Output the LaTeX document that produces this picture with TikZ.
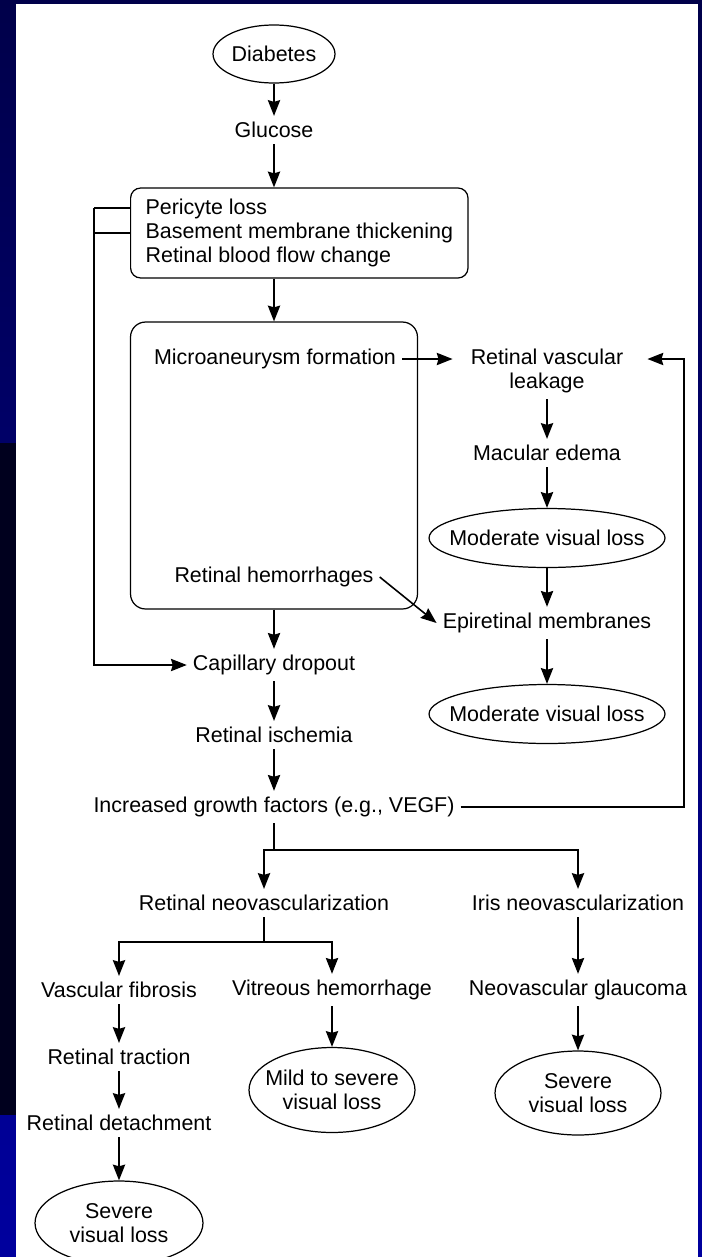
\documentclass[tikz,border=0pt]{standalone}
\usepackage{fontspec}
\setmainfont{Liberation Sans}
\usetikzlibrary{arrows.meta,shapes.geometric}
\definecolor{slidetop}{HTML}{00004A}
\definecolor{slidebot}{HTML}{00009E}
\definecolor{slidedark}{HTML}{00001E}
\begin{document}
\begin{tikzpicture}[x=0.02cm, y=-0.02cm, font=\fontsize{12.2}{13.8}\selectfont,
    flow/.style={-{Stealth[length=9pt,width=7pt,inset=1pt]}, line width=0.9pt},
    link/.style={line width=0.9pt},
    oval/.style={draw, ellipse, line width=0.7pt, inner sep=0pt},
    panel/.style={draw, rectangle, line width=0.7pt}]
    \useasboundingbox (0,0) rectangle (702,1257);
    \shade[top color=slidetop, bottom color=slidebot] (0,0) rectangle (702,1257);
    \fill[slidedark] (0,443) rectangle (16,1115);
    \fill[white] (16,4) rectangle (698,1257);

    \node[oval, minimum width=2.44cm, minimum height=1.16cm] (diab) at (274,54) {Diabetes};
    \node (gluc) at (274,130) {Glucose};
    \node[panel, anchor=west, rounded corners=0.2cm, minimum height=1.8cm, inner xsep=0.3cm, align=left] (bm) at (130,233)
        {Pericyte loss\\Basement membrane thickening\\Retinal blood flow change};
    \node[panel, rounded corners=0.3cm, minimum width=5.74cm, minimum height=5.74cm] (lesion) at (274,465.5) {};
    \node (micro) at (275,359) {Microaneurysm formation};
    \node (hemo) at (274,577) {Retinal hemorrhages};
    \node[align=center] (leak) at (547,371) {Retinal vascular\\leakage};
    \node (edema) at (547,453) {Macular edema};
    \node[oval, minimum width=4.72cm, minimum height=1.18cm] (mvl1) at (547,538) {};
    \node (mvl1t) at (mvl1) {Moderate visual loss};
    \node (epi) at (547,623) {Epiretinal membranes};
    \node[oval, minimum width=4.72cm, minimum height=1.18cm] (mvl2) at (547,714) {};
    \node (mvl2t) at (mvl2) {Moderate visual loss};
    \node (drop) at (274,665) {Capillary dropout};
    \node (isch) at (274,735) {Retinal ischemia};
    \node (vegf) at (274,807) {Increased growth factors (e.g., VEGF)};
    \node (rneo) at (264,903) {Retinal neovascularization};
    \node (ineo) at (578,903) {Iris neovascularization};
    \node (fib) at (119,990) {Vascular fibrosis};
    \node (vhem) at (332,990) {Vitreous hemorrhage};
    \node (glau) at (578,990) {Neovascular glaucoma};
    \node (trac) at (119,1057) {Retinal traction};
    \node (detach) at (119,1123) {Retinal detachment};
    \node[oval, minimum width=3.36cm, minimum height=1.68cm] (svl1) at (119,1223) {};
    \node[align=center] (svl1t) at (svl1) {Severe\\visual loss};
    \node[oval, minimum width=3.32cm, minimum height=1.7cm] (mild) at (332,1090) {};
    \node[align=center] (mildt) at (mild) {Mild to severe\\visual loss};
    \node[oval, minimum width=3.32cm, minimum height=1.68cm] (svl2) at (578,1093) {};
    \node[align=center] (svl2t) at (svl2) {Severe\\visual loss};

    \coordinate (side) at (94,208);
    \coordinate (split) at (274,850);
    \coordinate (fork) at (264,942);

    \draw[flow] (diab) to (gluc);
    \draw[flow] (gluc) to (gluc |- bm.north);
    \draw[flow] (bm.south -| lesion.north) to (lesion);
    \draw[flow] (lesion) to (drop);
    \draw[flow] (drop) to (isch);
    \draw[flow] (isch) to (vegf);
    \draw[link] (side -| bm.west) to (side);
    \draw[link] (bm.west |- 0,233) to (94,233);
    \draw[flow] (side) |- (drop.west);
    \draw[flow, shorten >=0.24cm] (micro.east) to (micro.east -| leak.west);
    \draw[flow] (hemo.east) to (epi.west);
    \draw[flow] (leak) to (edema);
    \draw[flow] (edema) to (mvl1);
    \draw[flow] (mvl1) to (epi);
    \draw[flow] (epi) to (mvl2);
    \draw[flow, shorten >=0.36cm] (vegf.east) -| (684,359) to (leak.east |- micro.east);
    \draw[link] (vegf) to (split);
    \draw[flow] (split) -| (rneo);
    \draw[flow] (split) -| (ineo);
    \draw[link] (rneo) to (fork);
    \draw[flow] (fork) -| (fib);
    \draw[flow] (fork) -| (vhem);
    \draw[flow] (ineo) to (glau);
    \draw[flow] (fib) to (trac);
    \draw[flow] (trac) to (detach);
    \draw[flow] (detach) to (svl1);
    \draw[flow] (vhem) to (mild);
    \draw[flow] (glau) to (svl2);
\end{tikzpicture}
\end{document}
